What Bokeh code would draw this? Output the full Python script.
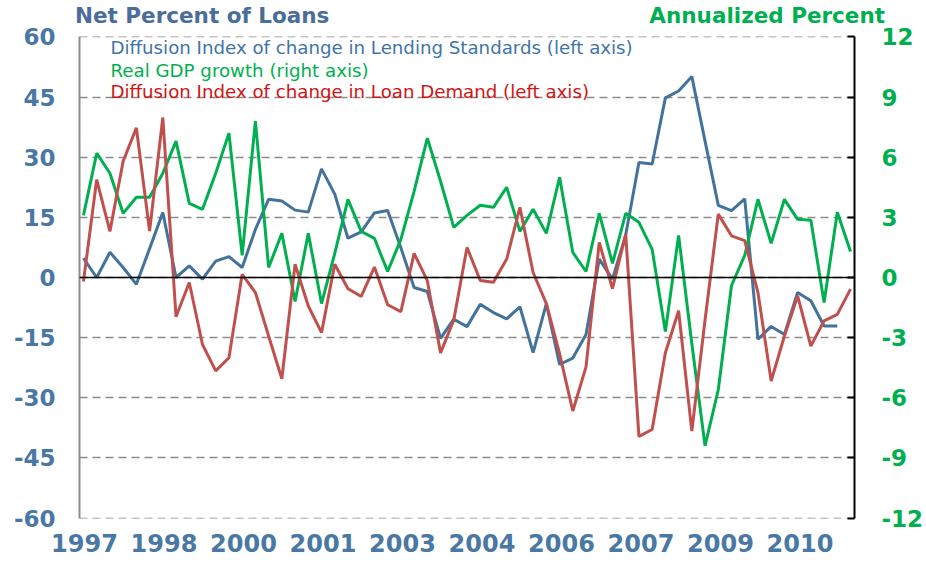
from bokeh.plotting import figure
from bokeh.layouts import column
from bokeh.models import Range1d, LinearAxis, Label, Span, Div
from bokeh.embed import file_html
from bokeh.resources import INLINE

# ---- data (quarterly, 1997Q1 onward) ----
lending_standards = [4.8, 0, 6.3, 2.5, -1.7, 7.2, 16.2, 0, 2.9, -0.4,
                     4.1, 5.2, 2.5, 12, 19.5, 19.1, 16.8, 16.3, 27.1, 20.8,
                     9.8, 11.4, 16.1, 16.7, 7.4, -2.5, -3.5, -15.2, -10.4, -12.25,
                     -6.7, -8.75, -10.3, -7.3, -18.75, -6.5, -21.7, -20.1, -14.2, 4.6,
                     -0.4, 10.6, 28.7, 28.3, 44.8, 46.5, 50.1, 34, 18, 16.7,
                     19.6, -15.4, -12.2, -14.2, -3.75, -5.8, -12.1, -12.1]
gdp_growth = [3.1, 6.2, 5.2, 3.2, 4.0, 4.0, 5.2, 6.8, 3.7, 3.4,
              5.2, 7.2, 1.1, 7.8, 0.5, 2.2, -1.2, 2.2, -1.3, 1.2,
              3.9, 2.3, 1.95, 0.3, 1.9, 4.3, 6.95, 4.8, 2.5, 3.1,
              3.6, 3.5, 4.5, 2.3, 3.4, 2.2, 5.0, 1.25, 0.3, 3.2,
              0.7, 3.2, 2.75, 1.4, -2.7, 2.1, -3.3, -8.4, -5.6, -0.4,
              1.1, 3.9, 1.7, 3.9, 2.9, 2.85, -1.25, 3.25, 1.3]
loan_demand = [-1.0, 24.4, 11.5, 29, 37.3, 11.6, 39.9, -9.8, -1.25, -16.7,
               -23.3, -20, 0.8, -3.75, -14.6, -25.25, 3.3, -7.1, -13.75, 3.3,
               -2.8, -4.7, 2.6, -6.8, -8.5, 6.0, -0.8, -18.8, -10.6, 7.5,
               -0.75, -1.2, 4.6, 17.5, 1.25, -6.5, -19, -33.3, -22.3, 8.75,
               -2.8, 10.8, -39.6, -37.9, -18.75, -8.3, -38.3, -10.6, 15.8, 10.4,
               9.2, -3.75, -25.8, -14.6, -4.6, -17.1, -10.8, -9.2, -2.9]
year_labels = ["1997", "1998", "2000", "2001", "2003", "2004", "2006", "2007", "2009", "2010"]
left_ticks = [-60, -45, -30, -15, 0, 15, 30, 45, 60]
right_ticks = [-12, -9, -6, -3, 0, 3, 6, 9, 12]

BLUE = "#43729b"
GREEN = "#00b050"
RED = "#c0504d"
AXIS_BLUE = "#4a78a4"
W = 926
TOP_H, MAIN_H = 23, 544

# ---- top row: the two axis titles ----
title_html = (
    '<div style="position:relative;width:926px;height:23px;overflow:visible;'
    'font-family:\'DejaVu Sans\';font-weight:bold;font-size:21.5px;line-height:22px;">'
    '<span style="position:absolute;left:75px;top:5px;color:#4a6d9a;white-space:nowrap;">'
    'Net Percent of Loans</span>'
    '<span style="position:absolute;right:41px;top:5px;color:#00b050;white-space:nowrap;">'
    'Annualized Percent</span></div>')
top = Div(text=title_html, width=W, height=TOP_H, margin=(0, 0, 0, 0))

# ---- main chart ----
p = figure(width=W, height=MAIN_H, output_backend="svg", toolbar_location=None,
           x_range=Range1d(-0.3, 58.3), y_range=Range1d(-60.1, 60.1),
           x_axis_location=None, y_axis_location="left",
           min_border_left=79, min_border_right=71, min_border_top=13,
           min_border_bottom=49)
p.outline_line_color = None
p.background_fill_color = "white"
p.border_fill_color = "white"

ya = p.yaxis[0]
ya.ticker = left_ticks
ya.major_label_overrides = {t: str(t) for t in left_ticks}
ya.axis_line_color = "#8c8c8c"
ya.axis_line_width = 2
ya.major_tick_out = 0
ya.major_tick_in = 0
ya.major_tick_line_color = None
ya.minor_tick_line_color = None
ya.major_label_text_font = "DejaVu Sans"
ya.major_label_text_font_style = "bold"
ya.major_label_text_font_size = "23px"
ya.major_label_text_color = AXIS_BLUE
ya.major_label_standoff = 24

p.xgrid.visible = False
p.ygrid.ticker = left_ticks
p.ygrid.grid_line_color = "#8c8c8c"
p.ygrid.grid_line_dash = "8 5"
p.ygrid.grid_line_width = 1.5

p.extra_y_ranges = {"gdp": Range1d(-12.02, 12.02)}
ra = LinearAxis(y_range_name="gdp", ticker=right_ticks)
ra.major_label_overrides = {t: str(t) for t in right_ticks}
ra.axis_line_color = "black"
ra.axis_line_width = 2
ra.major_tick_in = 7
ra.major_tick_out = 0
ra.major_tick_line_color = "black"
ra.major_tick_line_width = 2
ra.minor_tick_line_color = None
ra.major_label_text_font = "DejaVu Sans"
ra.major_label_text_font_style = "bold"
ra.major_label_text_font_size = "23px"
ra.major_label_text_color = GREEN
ra.major_label_standoff = 27
p.add_layout(ra, "right")

# year labels: their own axis below, spaced as in the source chart
p.extra_x_ranges = {"lab": Range1d(-0.0628, 9.686)}
xa = LinearAxis(x_range_name="lab", ticker=list(range(len(year_labels))))
xa.major_label_overrides = {k: yl for k, yl in enumerate(year_labels)}
xa.axis_line_color = None
xa.major_tick_line_color = None
xa.minor_tick_line_color = None
xa.major_tick_out = 0
xa.major_tick_in = 0
xa.major_label_standoff = 15
xa.major_label_text_font = "DejaVu Sans"
xa.major_label_text_font_style = "bold"
xa.major_label_text_font_size = "24px"
xa.major_label_text_color = AXIS_BLUE
p.add_layout(xa, "below")

p.add_layout(Span(location=0, dimension="width", line_color="black", line_width=1.5))

x = list(range(len(gdp_growth)))
p.line(x[:len(lending_standards)], lending_standards, line_color=BLUE, line_width=3)
p.line(x, gdp_growth, line_color=GREEN, line_width=3, y_range_name="gdp")
p.line(x, loan_demand, line_color=RED, line_width=3)

# legend (text only, inside the frame; screen units are frame-relative)
FL, FB = 79, 482
for txt, col, cy in [("Diffusion Index of change in Lending Standards (left axis)", "#3f74aa", 11),
                     ("Real GDP growth (right axis)", GREEN, 34),
                     ("Diffusion Index of change in Loan Demand (left axis)", "#d01414", 55)]:
    p.add_layout(Label(x=110 - FL, y=FB - cy, x_units="screen", y_units="screen",
                       text=txt, text_font="DejaVu Sans", text_font_size="18.2px",
                       text_color=col, text_baseline="middle"))

layout = column(top, p, spacing=0)
open("out.html", "w").write(file_html(layout, INLINE))
